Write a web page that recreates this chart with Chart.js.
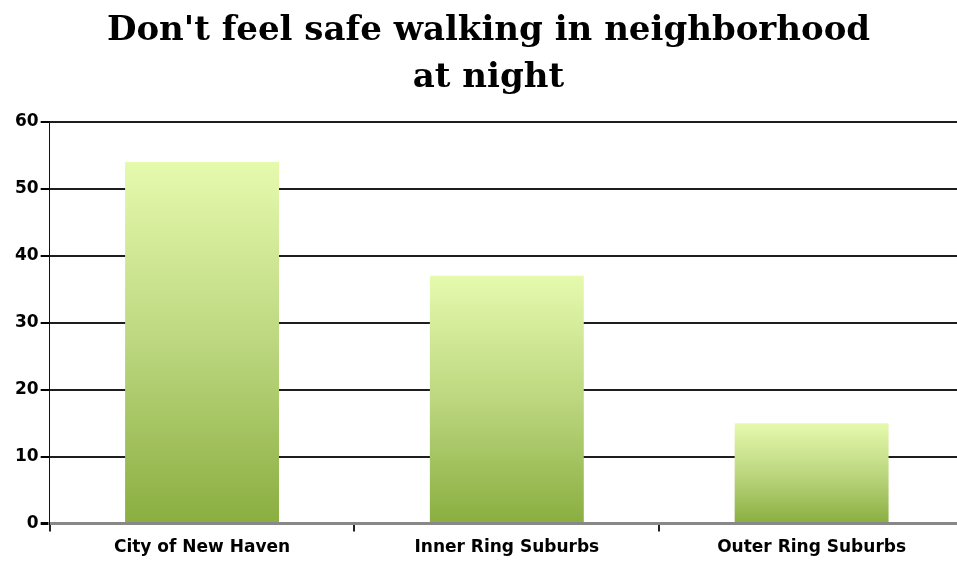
<!DOCTYPE html>
<html>
<head>
<meta charset="utf-8">
<script src="https://cdn.jsdelivr.net/npm/chart.js@4"></script>
<style>
  html, body { margin: 0; padding: 0; background: #ffffff; overflow: hidden; }
  #wrap { width: 964px; height: 564px; }
</style>
</head>
<body>
<div id="wrap"><canvas id="chart"></canvas></div>
<script>
// Share of residents who don't feel safe walking at night, by area (%)
const categories = ['City of New Haven', 'Inner Ring Suburbs', 'Outer Ring Suburbs'];
const values = [54, 37, 15];
const titleLines = ["Don't feel safe walking in neighborhood", 'at night'];

// Vertical gradient for each bar, light at the top and deeper green at the base
function barFill(context) {
  const chart = context.chart;
  const area = chart.chartArea;
  if (!area) return '#b8d678';
  const y = chart.scales.y;
  const top = y.getPixelForValue(context.raw);
  const base = y.getPixelForValue(0);
  const g = chart.ctx.createLinearGradient(0, top, 0, base);
  g.addColorStop(0, '#e6faae');
  g.addColorStop(0.5, '#bcd77f');
  g.addColorStop(1, '#8aae40');
  return g;
}

const tickFont = { family: 'DejaVu Sans', weight: 'bold', size: 17 };

new Chart(document.getElementById('chart'), {
  type: 'bar',
  data: {
    labels: categories,
    datasets: [{
      data: values,
      backgroundColor: barFill,
      borderWidth: 0,
      categoryPercentage: 1,
      barPercentage: 0.505
    }]
  },
  options: {
    responsive: true,
    maintainAspectRatio: false,
    animation: false,
    layout: { padding: { left: 13, right: 0, top: 0, bottom: 0 } },
    plugins: {
      legend: { display: false },
      tooltip: { enabled: false },
      title: {
        display: true,
        text: titleLines,
        color: '#000000',
        font: { family: 'DejaVu Serif', weight: 'bold', size: 34, lineHeight: 1.38 },
        padding: { top: 8, bottom: 20 }
      }
    },
    scales: {
      x: {
        grid: {
          display: true,
          drawOnChartArea: false,
          drawTicks: true,
          tickLength: 8,
          color: '#222222',
          lineWidth: 2
        },
        border: { display: true, color: '#888888', width: 3 },
        ticks: { color: '#000000', font: tickFont, padding: 6 }
      },
      y: {
        min: 0,
        max: 60,
        ticks: { stepSize: 10, color: '#000000', font: tickFont, padding: 2 },
        grid: {
          color: (c) => (c.tick && c.tick.value === 0 ? '#888888' : '#1e1e1e'),
          lineWidth: (c) => (c.tick && c.tick.value === 0 ? 3 : 2),
          tickColor: '#000000',
          tickLength: 9
        },
        border: { display: true, color: '#111111', width: 1 }
      }
    }
  }
});
</script>
</body>
</html>
